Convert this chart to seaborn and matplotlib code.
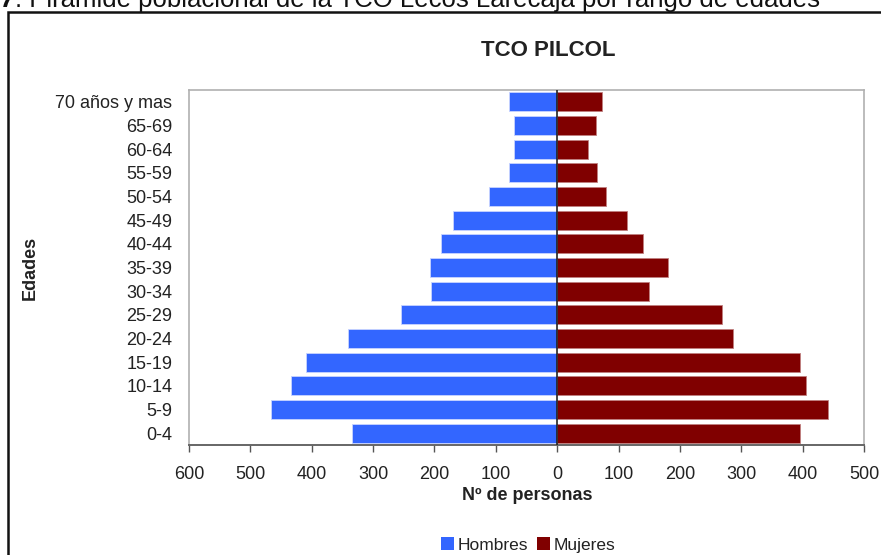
import matplotlib
matplotlib.use("Agg")
import matplotlib.pyplot as plt
import seaborn as sns
import pandas as pd
from matplotlib.patches import Rectangle, Patch

sns.set_theme(style="white")
plt.rcParams['font.family'] = ['Liberation Sans', 'DejaVu Sans']

edades = ["70 años y mas", "65-69", "60-64", "55-59", "50-54", "45-49", "40-44",
          "35-39", "30-34", "25-29", "20-24", "15-19", "10-14", "5-9", "0-4"]
hombres = [78, 71, 70, 79, 111, 170, 190, 207, 206, 255, 341, 410, 434, 467, 335]
mujeres = [73, 63, 51, 65, 80, 113, 140, 180, 150, 268, 287, 396, 405, 441, 395]
xticks = [-600, -500, -400, -300, -200, -100, 0, 100, 200, 300, 400, 500]

df = pd.DataFrame({"Edades": edades, "Hombres": [-v for v in hombres], "Mujeres": mujeres})

W, H = 881, 555
fig = plt.figure(figsize=(W / 100, H / 100), dpi=100)
ax = fig.add_axes([189 / W, 1 - 445 / H, (864 - 189) / W, (445 - 90) / H])

blue = "#3366FF"
red = "#800000"
sns.barplot(data=df, y="Edades", x="Hombres", color=blue, orient="h", ax=ax,
            width=0.79, saturation=1, edgecolor="#c8d4ff", linewidth=0.6)
sns.barplot(data=df, y="Edades", x="Mujeres", color=red, orient="h", ax=ax,
            width=0.79, saturation=1, edgecolor="#c08080", linewidth=0.6)

ax.set_xlim(-600, 500)
ax.set_xticks(xticks)
ax.set_xticklabels([str(abs(t)) for t in xticks], fontsize=13, color="#222222")
ax.tick_params(axis="x", bottom=True, length=5, width=1, color="#555555", pad=10)
ax.tick_params(axis="y", left=False, labelsize=13, labelcolor="#222222", pad=6)
ax.axvline(0, color="#222222", lw=1.2, zorder=5)
for s in ["left", "right", "top"]:
    ax.spines[s].set_color("#b0b0b0")
    ax.spines[s].set_linewidth(1.2)
ax.spines["bottom"].set_color("#666666")
ax.spines["bottom"].set_linewidth(1.4)
ax.set_xlabel("")
ax.set_ylabel("")

fig.text(527 / W, 1 - 496 / H, "Nº de personas", ha="center", va="center",
         fontsize=13, fontweight="bold", color="#222222")
fig.text(30 / W, 1 - 268 / H, "Edades", ha="center", va="center", rotation=90,
         fontsize=13, fontweight="bold", color="#222222")
fig.text(548 / W, 1 - 51 / H, "TCO PILCOL", ha="center", va="center",
         fontsize=16, fontweight="bold", color="#222222")

# outer chart frame
fig.patches.append(Rectangle((8 / W, -0.01), 1, 1 - 12 / H + 0.01, transform=fig.transFigure,
                             fill=False, edgecolor="#111111", lw=1.8))

# caption cut at the top
t7 = fig.text(0, 1 - 7 / H, "7", ha="left", va="baseline", fontsize=18.5,
              fontweight="bold", fontstyle="italic", color="#111111")
fig.canvas.draw()
bb = t7.get_window_extent()
fig.text(bb.x1 / W + 1 / W, 1 - 7 / H,
         ". Pirámide poblacional de la TCO Lecos Larecaja por rango de edades",
         ha="left", va="baseline", fontsize=18.5, color="#111111")

handles = [Patch(facecolor=blue, edgecolor="none", label="Hombres"),
           Patch(facecolor=red, edgecolor="none", label="Mujeres")]
fig.legend(handles=handles, loc="center", bbox_to_anchor=(528 / W, 1 - 545 / H), ncol=2,
           frameon=False, fontsize=12.5, handlelength=0.75, handleheight=0.75,
           handletextpad=0.2, columnspacing=0.5, labelcolor="#222222",
           borderpad=0, borderaxespad=0)

fig.savefig("out.png", dpi=100)
